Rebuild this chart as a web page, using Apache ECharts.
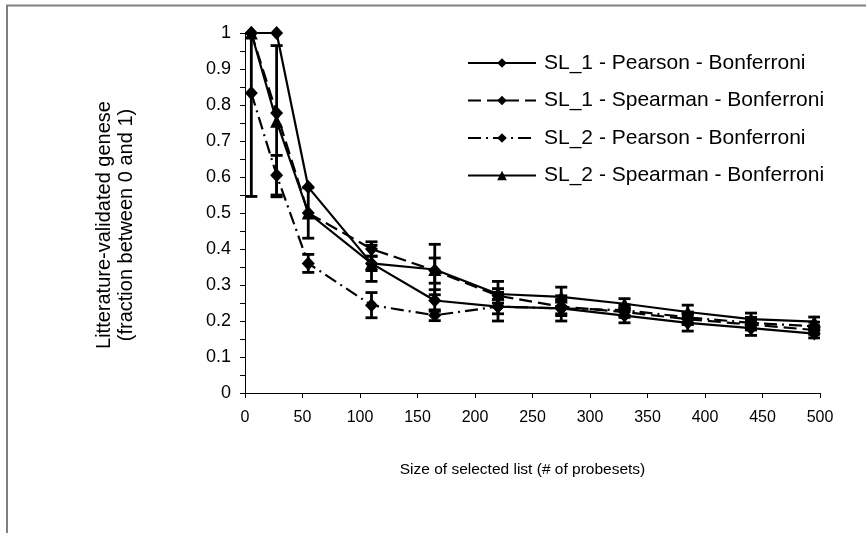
<!DOCTYPE html>
<html lang="en">
<head>
<meta charset="UTF-8">
<title>Litterature-validated genese</title>
<script src="https://cdn.jsdelivr.net/npm/echarts@6/dist/echarts.min.js"></script>
</head>
<body style="margin:0;background:#fff">
<div id="container" style="width:866px;height:533px"></div>
<script>
// list sizes (# of probesets)
var sizes = [5.5, 27.5, 55, 110, 165, 220, 275, 330, 385, 440, 495];

// fraction of litterature-validated genes
var sl1Pearson  = [1.00, 1.00, 0.572, 0.36, 0.257, 0.24, 0.235, 0.215, 0.195, 0.18, 0.165];
var sl1Spearman = [1.00, 0.778, 0.50, 0.40, 0.34, 0.27, 0.24, 0.225, 0.205, 0.19, 0.175];
var sl2Pearson  = [0.833, 0.605, 0.36, 0.244, 0.216, 0.24, 0.235, 0.23, 0.21, 0.195, 0.185];
var sl2Spearman = [1.00, 0.755, 0.50, 0.36, 0.343, 0.275, 0.267, 0.248, 0.225, 0.205, 0.198];

// error bar half widths
var sl1PearsonErr  = [0, 0, 0, 0.02, 0.03, 0.04, 0.035, 0.02, 0.023, 0.02, 0.012];
var sl1SpearmanErr = [0, 0, 0, 0.02, 0.035, 0.02, 0.02, 0.015, 0.015, 0.015, 0.012];
var sl2PearsonErr  = [0.287, 0.055, 0.025, 0.035, 0.015, 0.02, 0.02, 0.015, 0.015, 0.015, 0.012];
var sl2SpearmanErr = [0, 0.21, 0.07, 0.05, 0.07, 0.035, 0.027, 0.014, 0.019, 0.017, 0.013];

var names = ['SL_1 - Pearson - Bonferroni', 'SL_1 - Spearman - Bonferroni',
             'SL_2 - Pearson - Bonferroni', 'SL_2 - Spearman - Bonferroni'];

var dom = document.getElementById("container");
var myChart = echarts.init(dom);

function pts(vals) {
    return sizes.map(function (x, i) { return [x, vals[i]]; });
}
function bars(vals, errs) {
    return sizes.map(function (x, i) { return [x, vals[i] - errs[i], vals[i] + errs[i]]; })
        .filter(function (d, i) { return errs[i] > 0; });
}
function lineSeries(name, vals, dash, symbol) {
    return {
        name: name,
        type: 'line',
        data: pts(vals),
        symbol: symbol,
        symbolSize: symbol === 'triangle' ? 13 : [13, 14],
        itemStyle: {color: '#000'},
        lineStyle: {color: '#000', width: 2.2, type: dash},
        z: 3
    };
}
function errorSeries(vals, errs) {
    return {
        type: 'custom',
        data: bars(vals, errs),
        clip: true,
        z: 2,
        renderItem: function (params, api) {
            var x = api.value(0);
            var lo = api.coord([x, api.value(1)]);
            var hi = api.coord([x, api.value(2)]);
            var w = 6;
            var style = {stroke: '#000', lineWidth: 2.8};
            return {
                type: 'group',
                children: [
                    {type: 'line', shape: {x1: lo[0], y1: lo[1], x2: hi[0], y2: hi[1]}, style: style},
                    {type: 'line', shape: {x1: lo[0] - w, y1: lo[1], x2: lo[0] + w, y2: lo[1]}, style: style},
                    {type: 'line', shape: {x1: hi[0] - w, y1: hi[1], x2: hi[0] + w, y2: hi[1]}, style: style}
                ]
            };
        }
    };
}

var option = {
    animation: false,
    backgroundColor: '#fff',
    textStyle: {fontFamily: 'Liberation Sans, Arial, sans-serif', color: '#000'},
    graphic: [
        {type: 'line', shape: {x1: 6, y1: 5.5, x2: 866, y2: 5.5}, style: {stroke: '#808080', lineWidth: 2}},
        {type: 'line', shape: {x1: 7, y1: 5, x2: 7, y2: 533}, style: {stroke: '#808080', lineWidth: 2}}
    ],
    grid: {left: 245, right: 46, top: 33, bottom: 140},
    legend: {
        data: names,
        orient: 'vertical',
        left: 462,
        top: 47,
        itemWidth: 68,
        itemHeight: 12,
        itemGap: 15.5,
        textStyle: {fontSize: 21, color: '#000', lineHeight: 22, padding: [0, 0, 0, 3]}
    },
    xAxis: {
        type: 'value',
        min: 0,
        max: 500,
        interval: 50,
        name: 'Size of selected list (# of probesets)',
        nameLocation: 'middle',
        nameGap: 69,
        nameTextStyle: {fontSize: 15.5, color: '#000', padding: [0, 20, 0, 0]},
        axisLine: {lineStyle: {color: '#000', width: 1}},
        axisTick: {show: true, length: 5, lineStyle: {color: '#000'}},
        axisLabel: {fontSize: 16, color: '#000', margin: 17},
        splitLine: {show: false}
    },
    yAxis: {
        type: 'value',
        min: 0,
        max: 1,
        interval: 0.1,
        name: 'Litterature-validated genese\n(fraction between 0 and 1)',
        nameLocation: 'middle',
        nameRotate: 90,
        nameGap: 108,
        nameTextStyle: {fontSize: 20, color: '#000', lineHeight: 22, padding: [0, 24, 0, 0]},
        axisLine: {show: true, lineStyle: {color: '#000', width: 1}},
        axisTick: {show: true, length: 5, lineStyle: {color: '#000'}},
        minorTick: {show: true, splitNumber: 2, length: 5, lineStyle: {color: '#000'}},
        axisLabel: {fontSize: 18, color: '#000', margin: 14},
        splitLine: {show: false}
    },
    series: [
        lineSeries(names[0], sl1Pearson, 'solid', 'diamond'),
        lineSeries(names[1], sl1Spearman, [13, 6], 'diamond'),
        lineSeries(names[2], sl2Pearson, [13, 5, 2, 5], 'diamond'),
        lineSeries(names[3], sl2Spearman, 'solid', 'triangle'),
        errorSeries(sl1Pearson, sl1PearsonErr),
        errorSeries(sl1Spearman, sl1SpearmanErr),
        errorSeries(sl2Pearson, sl2PearsonErr),
        errorSeries(sl2Spearman, sl2SpearmanErr)
    ]
};

if (option && typeof option === "object") {
    myChart.setOption(option, true);
}
</script>
</body>
</html>
